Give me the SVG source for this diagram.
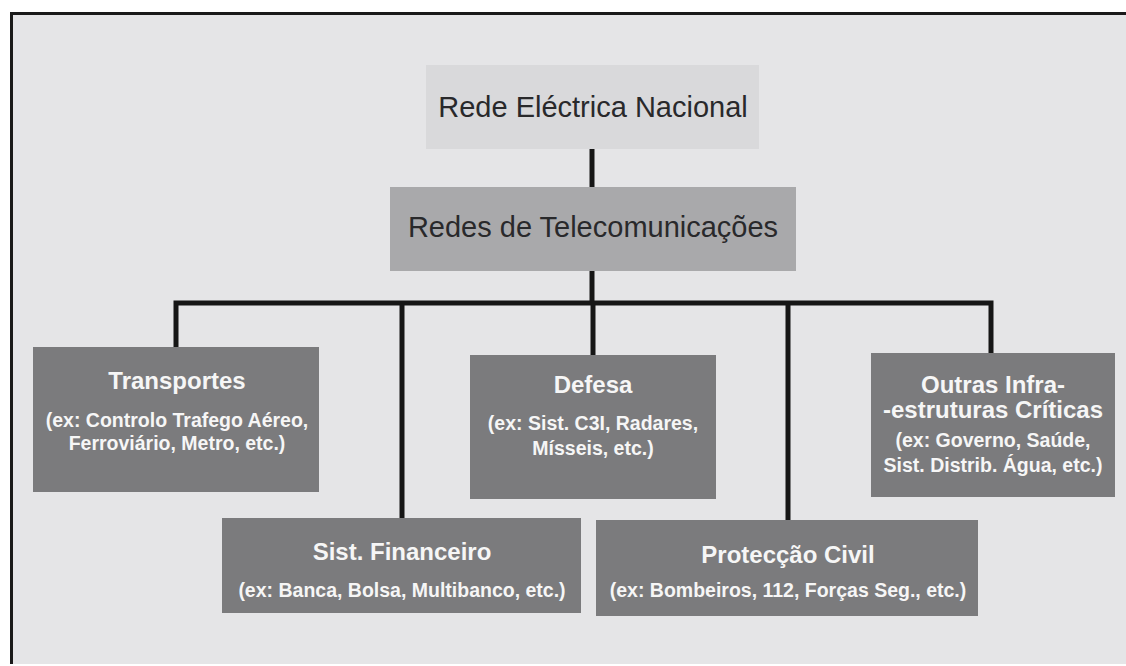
<svg xmlns="http://www.w3.org/2000/svg" width="1126" height="666" viewBox="0 0 1126 666">
<style>
.t{font-family:"Liberation Sans",Arial,sans-serif;text-anchor:middle}
.dk{fill:#29292b;font-size:29px}
.wt{fill:#f6f6f6;font-weight:bold}
.h{font-size:24px}
.s{font-size:19.5px}
.box{fill:#7b7b7d}
.ln{stroke:#161616;stroke-width:5;fill:none}
</style>
<rect x="0" y="0" width="1126" height="666" fill="#ffffff"/>
<rect x="10" y="12" width="1116" height="652" fill="#e5e5e7"/>
<path d="M11.5 664 V13.5 H1126" stroke="#1a1a1a" stroke-width="3" fill="none"/>
<g id="connectors">
<path class="ln" d="M592 149 V188"/>
<path class="ln" d="M592 271 V303"/>
<path class="ln" d="M176 347 V303 H991 V353"/>
<path class="ln" d="M402 303 V518"/>
<path class="ln" d="M593 303 V355"/>
<path class="ln" d="M788 303 V520"/>
</g>
<g id="rede-electrica">
<rect x="426" y="65" width="333" height="84" fill="#d9d9db"/>
<text class="t dk" x="593" y="117">Rede Eléctrica Nacional</text>
</g>
<g id="redes-telecom">
<rect x="390" y="187" width="406" height="84" fill="#a9a9ab"/>
<text class="t dk" x="593" y="237">Redes de Telecomunicações</text>
</g>
<g id="transportes">
<rect class="box" x="33" y="347" width="286" height="145"/>
<text class="t wt h" x="177" y="389">Transportes</text>
<text class="t wt s" x="177" y="427">(ex: Controlo Trafego Aéreo,</text>
<text class="t wt s" x="177" y="450">Ferroviário, Metro, etc.)</text>
</g>
<g id="sist-financeiro">
<rect class="box" x="222" y="518" width="359" height="95"/>
<text class="t wt h" x="402" y="560">Sist. Financeiro</text>
<text class="t wt s" x="402" y="597">(ex: Banca, Bolsa, Multibanco, etc.)</text>
</g>
<g id="defesa">
<rect class="box" x="470" y="355" width="246" height="144"/>
<text class="t wt h" x="593" y="393">Defesa</text>
<text class="t wt s" x="593" y="430">(ex: Sist. C3I, Radares,</text>
<text class="t wt s" x="593" y="455">Mísseis,  etc.)</text>
</g>
<g id="proteccao-civil">
<rect class="box" x="596" y="520" width="382" height="96"/>
<text class="t wt h" x="788" y="563">Protecção Civil</text>
<text class="t wt s" x="788" y="597">(ex: Bombeiros, 112, Forças Seg., etc.)</text>
</g>
<g id="outras-infra">
<rect class="box" x="871" y="353" width="244" height="144"/>
<text class="t wt h" x="993" y="393">Outras Infra-</text>
<text class="t wt h" x="993" y="418">-estruturas Críticas</text>
<text class="t wt s" x="993" y="447">(ex: Governo, Saúde,</text>
<text class="t wt s" x="993" y="472">Sist. Distrib. Água, etc.)</text>
</g>
</svg>
